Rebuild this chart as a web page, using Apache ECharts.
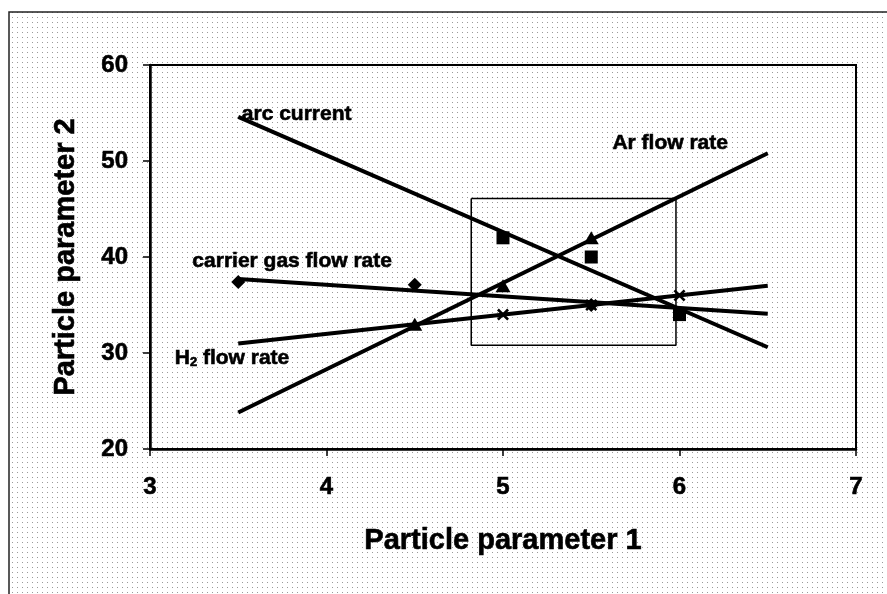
<!DOCTYPE html>
<html>
<head>
<meta charset="utf-8">
<script src="https://cdn.jsdelivr.net/npm/echarts@6/dist/echarts.min.js"></script>
<style>
  html, body { margin: 0; padding: 0; background: #fff; }
  #chart { width: 887px; height: 594px; }
</style>
</head>
<body>
<div id="chart"></div>
<script>
// ---- data ----
var xTicks = [3, 4, 5, 6, 7];
var yTicks = [20, 30, 40, 50, 60];

var arcX = [5, 5.5, 6];
var arcY = [42, 40, 34];
var arcTrendX = [3.5, 6.5];
var arcTrendY = [54.6, 30.6];

var arX = [4.5, 5, 5.5];
var arY = [33, 37, 42];
var arTrendX = [3.5, 6.5];
var arTrendY = [23.8, 50.8];

var carrierX = [3.5, 4.5, 5.5];
var carrierY = [37.4, 37.1, 35];
var carrierTrendX = [3.5, 6.5];
var carrierTrendY = [37.7, 34.1];

var h2X = [5, 5.5, 6];
var h2Y = [34, 35, 36];
var h2TrendX = [3.5, 6.5];
var h2TrendY = [31, 37];

// highlighted window
var boxX = [4.82, 5.98];
var boxY = [30.8, 46.1];

// annotation labels (left edge, middle) in data units
var labelNames = ['arc current', 'Ar flow rate', 'carrier gas flow rate', 'H2 flow rate'];
var labelX = [3.52, 5.62, 3.24, 3.14];
var labelY = [54.9, 51.9, 39.6, 29.5];

function pairs(xs, ys) {
  return xs.map(function (x, i) { return [x, ys[i]]; });
}

var font = 'Arial, "Liberation Sans", Helvetica, sans-serif';
var ink = '#000';

// dotted paper
var dots = document.createElement('canvas');
dots.width = 5; dots.height = 5;
var dctx = dots.getContext('2d');
dctx.fillStyle = '#fff';
dctx.fillRect(0, 0, 5, 5);
dctx.fillStyle = '#9a9a9a';
dctx.fillRect(2, 2, 1, 1);

var crossPath = 'path://M0,1.5L1.5,0L5,3.5L8.5,0L10,1.5L6.5,5L10,8.5L8.5,10L5,6.5L1.5,10L0,8.5L3.5,5Z';

var chart = echarts.init(document.getElementById('chart'), null, { renderer: 'canvas' });

var trendStyle = { color: ink, width: 4 };
var markStyle = { color: ink, opacity: 1 };
var heavy = { color: ink, fontFamily: font, fontWeight: 'bold', textBorderColor: ink, textBorderWidth: 0.6 };

function txt(extra) {
  return Object.assign({}, heavy, extra);
}

chart.setOption({
  animation: false,
  backgroundColor: '#fff',
  graphic: [
    {
      type: 'rect',
      z: -10,
      silent: true,
      shape: { x: 9, y: 12, width: 900, height: 600 },
      style: { fill: { image: dots, repeat: 'repeat' }, stroke: '#222', lineWidth: 1.5 }
    }
  ],
  grid: { left: 150, right: 31, top: 65, bottom: 145, show: true, borderColor: ink, borderWidth: 2, backgroundColor: 'transparent' },
  xAxis: {
    type: 'value',
    min: xTicks[0],
    max: xTicks[xTicks.length - 1],
    interval: 1,
    name: 'Particle parameter 1',
    nameLocation: 'middle',
    nameGap: 77,
    nameTextStyle: txt({ fontSize: 29 }),
    axisLine: { show: true, lineStyle: { color: ink, width: 2.5 } },
    axisTick: { show: true, inside: false, length: 7, lineStyle: { color: ink, width: 1.5 } },
    axisLabel: txt({ fontSize: 24, margin: 26 }),
    splitLine: { show: false }
  },
  yAxis: {
    type: 'value',
    min: yTicks[0],
    max: yTicks[yTicks.length - 1],
    interval: 10,
    name: 'Particle parameter 2',
    nameLocation: 'middle',
    nameGap: 70,
    nameTextStyle: txt({ fontSize: 29 }),
    axisLine: { show: true, lineStyle: { color: ink, width: 2.5 } },
    axisTick: { show: true, inside: false, length: 7, lineStyle: { color: ink, width: 1.5 } },
    axisLabel: txt({ fontSize: 24, margin: 22 }),
    splitLine: { show: false }
  },
  series: [
    {
      name: 'box', type: 'line', symbol: 'none', silent: true,
      data: [[boxX[0], boxY[1]], [boxX[1], boxY[1]], [boxX[1], boxY[0]], [boxX[0], boxY[0]], [boxX[0], boxY[1]]],
      lineStyle: { color: ink, width: 1.5 }
    },
    { name: 'arc trend', type: 'line', symbol: 'none', data: pairs(arcTrendX, arcTrendY), lineStyle: trendStyle },
    { name: 'ar trend', type: 'line', symbol: 'none', data: pairs(arTrendX, arTrendY), lineStyle: trendStyle },
    { name: 'carrier trend', type: 'line', symbol: 'none', data: pairs(carrierTrendX, carrierTrendY), lineStyle: trendStyle },
    { name: 'h2 trend', type: 'line', symbol: 'none', data: pairs(h2TrendX, h2TrendY), lineStyle: trendStyle },
    { name: 'arc current', type: 'scatter', symbol: 'rect', symbolSize: 13, data: pairs(arcX, arcY), itemStyle: markStyle },
    { name: 'Ar flow rate', type: 'scatter', symbol: 'triangle', symbolSize: [15, 13], data: pairs(arX, arY), itemStyle: markStyle },
    { name: 'carrier gas flow rate', type: 'scatter', symbol: 'diamond', symbolSize: [14, 14], data: pairs(carrierX, carrierY), itemStyle: markStyle },
    { name: 'H2 flow rate', type: 'scatter', symbol: crossPath, symbolSize: 12, data: pairs(h2X, h2Y), itemStyle: markStyle },
    {
      name: 'labels', type: 'scatter', symbolSize: 0, silent: true, z: 5,
      itemStyle: markStyle,
      data: labelNames.map(function (n, i) { return { name: n, value: [labelX[i], labelY[i]] }; }),
      label: txt({
        show: true,
        position: 'right',
        distance: 0,
        fontSize: 21,
        formatter: function (p) {
          if (p.name === 'H2 flow rate') return 'H{sub|2} flow rate';
          return p.name;
        },
        rich: {
          sub: txt({ fontSize: 13, verticalAlign: 'bottom', padding: [9, 0, 0, 0] })
        }
      })
    }
  ]
});
window.addEventListener('resize', function () { chart.resize(); });
</script>
</body>
</html>
